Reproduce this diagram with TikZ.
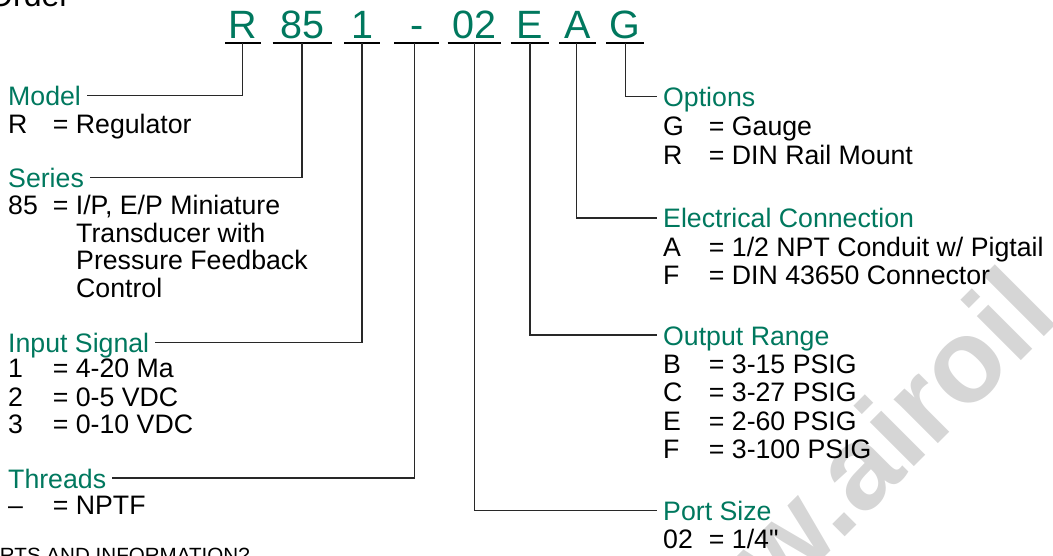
\documentclass[tikz,border=0pt]{standalone}
\usepackage{fontspec}
\setmainfont{Liberation Sans}
\setmonofont{Liberation Sans}
\definecolor{codegreen}{RGB}{0,120,94}
\definecolor{wmgray}{RGB}{214,214,214}
\definecolor{linegray}{RGB}{40,40,40}
\newcommand\kvl[2]{\makebox[44.7pt][l]{#1}= #2}
\newcommand\kvr[2]{\makebox[45.7pt][l]{#1}= #2}
\newcommand\sq{{\ttfamily"}}
\begin{document}
\begin{tikzpicture}[x=1pt,y=-1pt,
  code/.style={font=\fontsize{39.5}{40}\selectfont, text=codegreen, inner sep=0pt, anchor=base},
  head/.style={font=\fontsize{26.7}{28.3}\selectfont, text=codegreen, inner xsep=6pt, inner ysep=0pt,
               text height=20pt, text depth=0pt, anchor=base west},
  item/.style={font=\fontsize{26.7}{28.3}\selectfont, inner sep=0pt, anchor=base west},
  uline/.style={line width=2pt, draw=black},
  conn/.style={line width=1.3pt, draw=linegray},
  wm/.style={font=\fontsize{118}{118}\selectfont\bfseries, text=wmgray, inner sep=0pt, anchor=base west, rotate=45}]
\useasboundingbox (0,0) rectangle (1053,556);
\clip (0,0) rectangle (1053,556);

% watermark
\node[wm] (wm) at (647.6,734.2) {www.airoil};

% title fragments
\node[item, font=\fontsize{32}{32}\selectfont] (title) at (-12,7) {Order};
\node[item, anchor=base east, font=\fontsize{20.6}{21}\selectfont] (foot) at (250,562.5) {RTS AND INFORMATION?};

% code letters
\node[code] (cR)  at (242.9,38.3) {R};
\node[code] (c85) at (302.2,38.3) {85};
\node[code] (c1)  at (362,38.3) {1};
\node[code] (cD)  at (416.7,38.3) {-};
\node[code] (c02) at (474.3,38.3) {02};
\node[code] (cE)  at (529.9,38.3) {E};
\node[code] (cA)  at (577.7,38.3) {A};
\node[code] (cG)  at (625,38.3) {G};

% underlines
\draw[uline] (225,43.5) -- (260.7,43.5);
\draw[uline] (272.7,43.5) -- (331.7,43.5);
\draw[uline] (344,43.5) -- (380,43.5);
\draw[uline] (394,43.5) -- (439.3,43.5);
\draw[uline] (447.7,43.5) -- (501,43.5);
\draw[uline] (510.7,43.5) -- (549,43.5);
\draw[uline] (559,43.5) -- (596.3,43.5);
\draw[uline] (606,43.5) -- (644,43.5);

\coordinate (uR)  at (242.7,43.5);
\coordinate (u85) at (302,43.5);
\coordinate (u1)  at (362,43.5);
\coordinate (uD)  at (414.3,43.5);
\coordinate (u02) at (474.3,43.5);
\coordinate (uE)  at (530,43.5);
\coordinate (uA)  at (576.7,43.5);
\coordinate (uG)  at (625.3,43.5);

% left headers
\node[head] (hModel)   at (2,105.5) {Model};
\node[head] (hSeries)  at (2,187.5) {Series};
\node[head] (hInput)   at (2,352.5) {Input Signal};
\node[head] (hThreads) at (2,488)   {Threads};
% right headers
\node[head] (hOptions) at (657,106.5) {Options};
\node[head] (hElec)    at (657,228)   {Electrical Connection};
\node[head] (hOutput)  at (657,345)   {Output Range};
\node[head] (hPort)    at (657,520.5) {Port Size};

% connectors
\draw[conn] (uR)  |- (hModel.east);
\draw[conn] (u85) |- (hSeries.east);
\draw[conn] (u1)  |- (hInput.east);
\draw[conn] (uD)  |- (hThreads.east);
\draw[conn] (u02) |- (hPort.west);
\draw[conn] (uE)  |- (hOutput.west);
\draw[conn] (uA)  |- (hElec.west);
\draw[conn] (uG)  |- (hOptions.west);

% left items
\node[item] (m1) at (8,134)   {\kvl{R}{Regulator}};
\node[item] (s1) at (8,215)   {\kvl{85}{I/P, E/P Miniature}};
\node[item] (s2) at (76,242.5) {Transducer with};
\node[item] (s3) at (76,270)   {Pressure Feedback};
\node[item] (s4) at (76,297.5) {Control};
\node[item] (i1) at (8,377.7) {\kvl{1}{4-20 Ma}};
\node[item] (i2) at (8,406)   {\kvl{2}{0-5 VDC}};
\node[item] (i3) at (8,433.3) {\kvl{3}{0-10 VDC}};
\node[item] (t1) at (8,514)   {\kvl{--}{NPTF}};

% right items
\node[item] (o1) at (663,135.8) {\kvr{G}{Gauge}};
\node[item] (o2) at (663,164.1) {\kvr{R}{DIN Rail Mount}};
\node[item] (e1) at (663,256.7) {\kvr{A}{1/2 NPT Conduit w/ Pigtail}};
\node[item] (e2) at (663,285)   {\kvr{F}{DIN 43650 Connector}};
\node[item] (r1) at (663,373.3) {\kvr{B}{3-15 PSIG}};
\node[item] (r2) at (663,401.7) {\kvr{C}{3-27 PSIG}};
\node[item] (r3) at (663,430)   {\kvr{E}{2-60 PSIG}};
\node[item] (r4) at (663,458.3) {\kvr{F}{3-100 PSIG}};
\node[item] (p1) at (663,548.3) {\kvr{02}{1/4\sq}};
\end{tikzpicture}
\end{document}
